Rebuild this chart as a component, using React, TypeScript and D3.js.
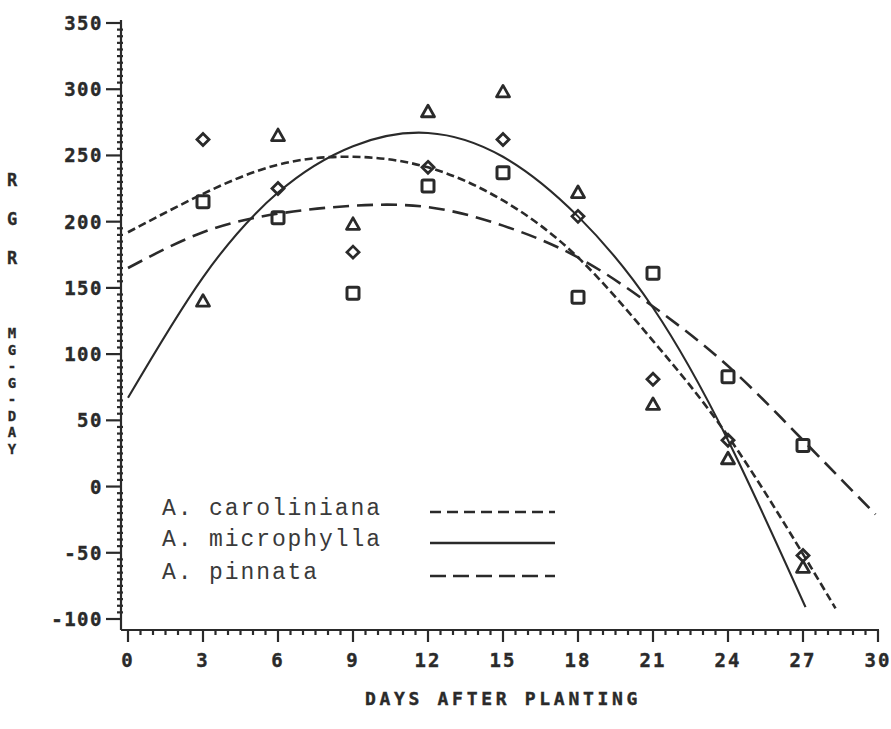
import React from "react";
import * as d3 from "d3";

// Observed relative growth rates (mg/g/day) by days after planting
const days = [3, 6, 9, 12, 15, 18, 21, 24, 27];
const carolinianaObs = [262, 225, 177, 241, 262, 204, 81, 35, -52];
const microphyllaObs = [140, 265, 198, 283, 298, 222, 62, 21, -61];
const pinnataObs = [215, 203, 146, 227, 237, 143, 161, 83, 31];

// Fitted regression curves, sampled along the day axis
const carolinianaFitDays = [0, 3, 6, 9, 12, 15, 18, 21, 24, 27, 28.3];
const carolinianaFit = [192, 221, 243, 249, 241, 216, 173, 110, 38, -51, -92];
const microphyllaFitDays = [0, 3, 6, 9, 12, 15, 18, 21, 24, 27.1];
const microphyllaFit = [67, 158, 222, 257, 267, 249, 204, 135, 35, -91];
const pinnataFitDays = [0, 3, 6, 9, 12, 15, 18, 21, 24, 27, 29.9];
const pinnataFit = [165, 192, 206, 212, 211, 197, 173, 136, 91, 35, -21];

const xTicks = [0, 3, 6, 9, 12, 15, 18, 21, 24, 27, 30];
const yTicks = [350, 300, 250, 200, 150, 100, 50, 0, -50, -100];
const yTitleTop = ["R", "G", "R"];
const yTitleBottom = ["M", "G", "-", "G", "-", "D", "A", "Y"];
const xTitle = "DAYS AFTER PLANTING";
const legendNames = ["A. caroliniana", "A. microphylla", "A. pinnata"];

const INK = "#2a2a2a";
const PLOT_FONT = "'DejaVu Sans Mono', monospace";
const TYPE_FONT = "'Liberation Mono', 'DejaVu Sans Mono', monospace";

export default function App() {
  const W = 891;
  const H = 729;
  const axisX = 121;
  const axisY = 630;

  const x = d3.scaleLinear().domain([0, 30]).range([128, 878]);
  const y = d3.scaleLinear().domain([-100, 350]).range([619, 23]);

  const line = d3
    .line<[number, number]>()
    .x((d) => x(d[0]))
    .y((d) => y(d[1]))
    .curve(d3.curveNatural);

  const zip = (a: number[], b: number[]) =>
    a.map((v, i) => [v, b[i]] as [number, number]);

  const curves = [
    { pts: zip(carolinianaFitDays, carolinianaFit), dash: "8,4", legendDash: "11,6", width: 2.6 },
    { pts: zip(microphyllaFitDays, microphyllaFit), dash: "", legendDash: "", width: 2.1 },
    { pts: zip(pinnataFitDays, pinnataFit), dash: "16,8", legendDash: "16,7", width: 2.6 },
  ];

  const minorX = d3.range(0, 30.001, 0.5);
  const minorY = d3.range(-100, 350.001, 5);

  const diamond = (cx: number, cy: number) => {
    const r = 6;
    return `M${cx},${cy - r}L${cx + r},${cy}L${cx},${cy + r}L${cx - r},${cy}Z`;
  };
  const triangle = (cx: number, cy: number) =>
    `M${cx},${cy - 6.5}L${cx + 6.5},${cy + 5}L${cx - 6.5},${cy + 5}Z`;

  const legendRows = [512, 543, 576];

  return (
    <svg
      width={W}
      height={H}
      style={{ position: "absolute", left: 0, top: 0, background: "#fff" }}
    >
      {/* axes */}
      <line x1={axisX} x2={axisX} y1={20} y2={axisY} stroke={INK} strokeWidth={2.2} />
      <line x1={axisX} x2={x(30) + 1} y1={axisY} y2={axisY} stroke={INK} strokeWidth={2.2} />

      {minorX.map((d) => (
        <line
          key={"mx" + d}
          x1={x(d)}
          x2={x(d)}
          y1={axisY}
          y2={axisY + (d % 3 === 0 ? 12 : 5)}
          stroke={INK}
          strokeWidth={2.2}
        />
      ))}
      {minorY.map((v) => (
        <line
          key={"my" + v}
          x1={axisX - (v % 50 === 0 ? 15 : 4)}
          x2={axisX + (v % 50 === 0 ? 0 : 2)}
          y1={y(v)}
          y2={y(v)}
          stroke={INK}
          strokeWidth={2.2}
        />
      ))}

      {xTicks.map((t) => (
        <text
          key={"xt" + t}
          x={x(t)}
          y={660}
          textAnchor="middle"
          dominantBaseline="central"
          fontFamily={PLOT_FONT}
          fontWeight="bold"
          fontSize={19}
          letterSpacing={2}
          fill={INK}
          stroke={INK}
          strokeWidth={0.4}
        >
          {t}
        </text>
      ))}
      {yTicks.map((t) => (
        <text
          key={"yt" + t}
          x={103}
          y={y(t)}
          textAnchor="end"
          dominantBaseline="central"
          fontFamily={PLOT_FONT}
          fontWeight="bold"
          fontSize={19}
          letterSpacing={1.5}
          fill={INK}
          stroke={INK}
          strokeWidth={0.4}
        >
          {t}
        </text>
      ))}

      <text
        x={503}
        y={698}
        textAnchor="middle"
        dominantBaseline="central"
        fontFamily={PLOT_FONT}
        fontWeight="bold"
        fontSize={18}
        letterSpacing={3.7}
        fill={INK}
        stroke={INK}
        strokeWidth={0.4}
      >
        {xTitle}
      </text>

      {yTitleTop.map((c, i) => (
        <text
          key={"yta" + i}
          x={12}
          y={180 + i * 39}
          textAnchor="middle"
          dominantBaseline="central"
          fontFamily={PLOT_FONT}
          fontWeight="bold"
          fontSize={17}
          fill={INK}
          stroke={INK}
          strokeWidth={0.3}
        >
          {c}
        </text>
      ))}
      {yTitleBottom.map((c, i) => (
        <text
          key={"ytb" + i}
          x={12}
          y={333 + i * 16.5}
          textAnchor="middle"
          dominantBaseline="central"
          fontFamily={PLOT_FONT}
          fontWeight="bold"
          fontSize={14}
          fill={INK}
          stroke={INK}
          strokeWidth={0.3}
        >
          {c}
        </text>
      ))}

      {/* fitted curves */}
      {curves.map((c, i) => (
        <path
          key={"c" + i}
          d={line(c.pts) || ""}
          fill="none"
          stroke={INK}
          strokeWidth={c.width}
          strokeDasharray={c.dash || undefined}
        />
      ))}

      {/* observations */}
      {days.map((d, i) => (
        <path
          key={"dm" + i}
          d={diamond(x(d), y(carolinianaObs[i]))}
          fill="none"
          stroke={INK}
          strokeWidth={2.8}
        />
      ))}
      {days.map((d, i) => (
        <path
          key={"tr" + i}
          d={triangle(x(d), y(microphyllaObs[i]))}
          fill="none"
          stroke={INK}
          strokeWidth={2.8}
          strokeLinejoin="round"
        />
      ))}
      {days.map((d, i) => (
        <rect
          key={"sq" + i}
          x={x(d) - 6}
          y={y(pinnataObs[i]) - 6}
          width={12}
          height={12}
          rx={1.5}
          fill="none"
          stroke={INK}
          strokeWidth={3}
        />
      ))}

      {/* legend */}
      {legendNames.map((n, i) => (
        <g key={"lg" + i}>
          <text
            x={162}
            y={legendRows[i] + 3}
            fontFamily={TYPE_FONT}
            fontSize={23}
            letterSpacing={1.9}
            fill="#3a3a3a"
          >
            {n}
          </text>
          <line
            x1={430}
            x2={555}
            y1={legendRows[i]}
            y2={legendRows[i]}
            stroke={INK}
            strokeWidth={2.4}
            strokeDasharray={curves[i].legendDash || undefined}
          />
        </g>
      ))}
    </svg>
  );
}
